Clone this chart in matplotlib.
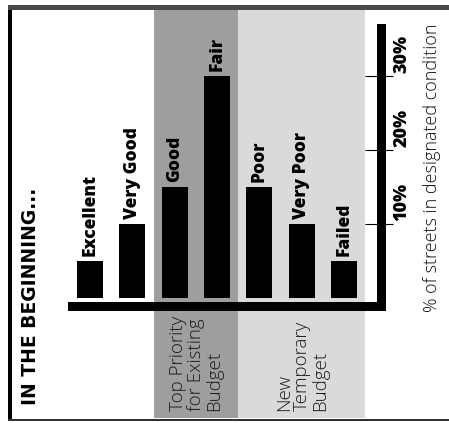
import matplotlib
matplotlib.use("Agg")
import matplotlib.pyplot as plt
from matplotlib.patches import Rectangle

# street condition categories and share of streets in each (%)
conditions = ["Excellent", "Very Good", "Good", "Fair", "Poor", "Very Poor", "Failed"]
share = [5, 10, 15, 30, 15, 10, 5]
ticks = [10, 20, 30]

# which budget covers which conditions
priority_group = ["Good", "Fair"]
temporary_group = ["Poor", "Very Poor", "Failed"]
priority_label = "Top Priority\nfor Existing\nBudget"
temporary_label = "New\nTemporary\nBudget"

W, H = 449, 423
fig = plt.figure(figsize=(W / 100, H / 100), dpi=100)
fig.patch.set_facecolor("white")

ax = fig.add_axes([68 / W, (H - 311) / H, (386 - 68) / W, (311 - 24) / H])
ax.set_xlim(-0.52, 6.99)
ax.set_ylim(-1.76, 37.0)
ax.axis("off")
ax.patch.set_visible(False)

def span(group):
    idx = [conditions.index(c) for c in group]
    return min(idx) - 0.5, max(idx) + 0.5

# shaded budget bands, running past the plot area top and bottom
p0, p1 = span(priority_group)
t0, t1 = span(temporary_group)
ax.axvspan(p0, p1, -0.373, 1.049, color="#9e9e9e", lw=0, clip_on=False, zorder=0)
ax.axvspan(t0, t1, -0.373, 1.049, color="#dadada", lw=0, clip_on=False, zorder=0)

bars = ax.bar(range(len(conditions)), share, width=0.61, color="black", zorder=2)

# baseline and right hand scale bar
ax.axhspan(-1.76, -0.54, color="black", lw=0, zorder=3)
ax.axvspan(6.78, 6.99, color="black", lw=0, zorder=3)
ax.hlines(ticks, 6.50, 7.16, color="black", lw=0.8, clip_on=False, zorder=3)

bold = dict(family="Open Sans", fontweight="heavy")
light = dict(family="Open Sans", fontweight="light")

for i, (name, v) in enumerate(zip(conditions, share)):
    ax.text(i, v + 0.7, name, rotation=90, ha="center", va="bottom",
            fontsize=12.5, **bold)

for t in ticks:
    ax.text(7.36, t + 0.4, f"{t}%", rotation=90, ha="center", va="bottom",
            fontsize=13, clip_on=False, **bold)

ax.text(8.08, -1.9, "% of streets in designated condition", rotation=90,
        ha="center", va="bottom", fontsize=13, color="#111111",
        clip_on=False, **light)

ax.text((p0 + p1) / 2, -15.3, priority_label, rotation=90, ha="center",
        va="bottom", multialignment="left", fontsize=13.5, color="#1a1a1a",
        linespacing=1.0, clip_on=False, **light)
ax.text((t0 + t1) / 2, -15.3, temporary_label, rotation=90, ha="center",
        va="bottom", multialignment="left", fontsize=13.5, color="#1a1a1a",
        linespacing=1.0, clip_on=False, **light)

fig.text(30 / W, (H - 405) / H, "IN THE BEGINNING...", rotation=90,
         ha="center", va="bottom", fontsize=13.5, family="DejaVu Sans",
         fontweight="bold")

# frame: heavy left rule, grey top rule, thin bottom rule
fig.add_artist(Rectangle((8 / W, 2 / H), 4 / W, 414 / H,
                         transform=fig.transFigure, color="black", lw=0))
fig.add_artist(Rectangle((8 / W, (H - 10) / H), (W - 8) / W, 5 / H,
                         transform=fig.transFigure, color="#4a4a4a", lw=0))
fig.add_artist(Rectangle((8 / W, 2 / H), (W - 8) / W, 2 / H,
                         transform=fig.transFigure, color="#333333", lw=0))

fig.savefig("out.png", dpi=100)
